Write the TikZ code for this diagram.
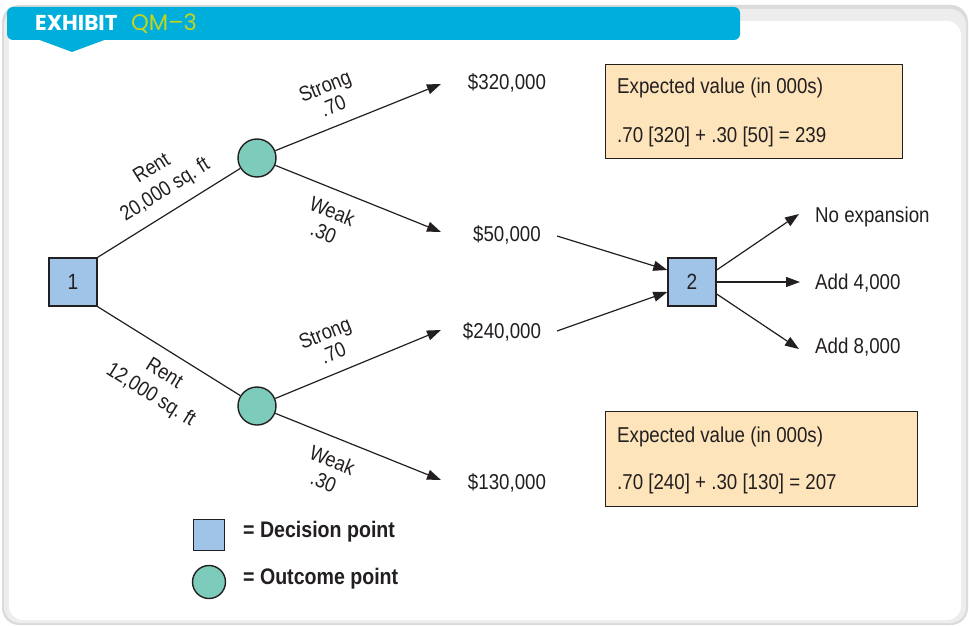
\documentclass[tikz,border=0pt]{standalone}
\usepackage{fontspec}
\setmainfont{Liberation Sans}[FakeStretch=0.87]
\newfontfamily\hdfont{Poppins}
\usetikzlibrary{arrows.meta}

\definecolor{hdblue}{RGB}{0,174,219}
\definecolor{hdgreen}{RGB}{196,212,30}
\definecolor{decfill}{RGB}{159,196,232}
\definecolor{outfill}{RGB}{125,203,187}
\definecolor{evfill}{RGB}{253,228,187}
\definecolor{ink}{RGB}{35,31,32}

\begin{document}
\begin{tikzpicture}[x=1pt,y=-1pt,
  dec/.style={draw=ink, line width=1.4pt, fill=decfill, minimum size=48pt,
    inner sep=0pt, text=ink, font=\fontsize{22}{24}\selectfont},
  outc/.style={circle, draw=ink, line width=1.4pt, fill=outfill,
    minimum size=38pt, inner sep=0pt},
  lbl/.style={font=\fontsize{21.5}{24}\selectfont, text=ink, inner sep=0pt},
  brl/.style={font=\fontsize{21}{25}\selectfont, align=center, text=ink, inner sep=0pt},
  conn/.style={line width=1.2pt, draw=ink},
  arr/.style={conn, -{Triangle[length=14pt,width=10pt]}},
  evbox/.style={draw=ink, line width=1.1pt, fill=evfill, inner sep=0pt,
    anchor=north west},
  legtxt/.style={font=\fontsize{22.5}{24}\selectfont\bfseries, text=ink,
    inner sep=0pt, anchor=west},
]
\useasboundingbox (0,0) rectangle (969,626);

% card with soft shadow
\fill[black!14, rounded corners=17pt] (2,5) rectangle (968,625);
\fill[black!7, rounded corners=16pt] (4,9) rectangle (966,623);
\fill[white, rounded corners=14pt] (9,21) rectangle (961,620);

% header bar with its pointer
\fill[hdblue, rounded corners=6pt] (7,7) rectangle (740,40);
\fill[hdblue] (37,39) -- (107,39) -- (72,52) -- cycle;
\node[anchor=base west, inner sep=0pt, text=white,
  font=\hdfont\fontsize{21.5}{24}\selectfont\bfseries] (exh) at (35,31) {EXHIBIT};
\node[anchor=base west, inner sep=0pt, text=hdgreen,
  font=\hdfont\fontsize{22.5}{24}\selectfont] (qm) at (131,31) {QM–3};

% decision and outcome points
\node[dec] (n1) at (73,282) {1};
\node[outc] (c1) at (257,158) {};
\node[outc] (c2) at (257,406) {};
\node[dec] (n2) at (692,282) {2};

% payoffs
\node[lbl] (v320) at (507,83) {\$320,000};
\node[lbl] (v50) at (507,235) {\$50,000};
\node[lbl] (v240) at (502,332) {\$240,000};
\node[lbl] (v130) at (507,483) {\$130,000};

\coordinate (t320) at (441,84);
\coordinate (t50) at (441,232);
\coordinate (t240) at (441,330);
\coordinate (t130) at (441,480);
\coordinate (s50) at (557,236);
\coordinate (s240) at (557,331);

% expansion choices
\node[lbl, anchor=west] (ne) at (815,217) {No expansion};
\node[lbl, anchor=west] (a4) at (815,283) {Add 4,000};
\node[lbl, anchor=west] (a8) at (815,347) {Add 8,000};
\coordinate (tne) at (799,214);
\coordinate (ta4) at (800,282);
\coordinate (ta8) at (799,349);

% branches
\draw[conn] (n1.north east) -- (c1);
\draw[conn] (n1.south east) -- (c2);
\draw[arr] (c1) -- (t320);
\draw[arr] (c1) -- (t50);
\draw[arr] (c2) -- (t240);
\draw[arr] (c2) -- (t130);
\draw[arr] (s50) -- ([yshift=12pt]n2.west);
\draw[arr] (s240) -- ([yshift=-10pt]n2.west);
\draw[arr] ([yshift=12pt]n2.east) -- (tne);
\draw[arr] (n2.east) -- (ta4);
\draw[arr] ([yshift=-12pt]n2.east) -- (ta8);

% branch labels
\node[brl, rotate=32] (r20) at (159,180) {Rent\\20,000 sq.\ ft};
\node[brl, rotate=-32] (r12) at (157,385) {Rent\\12,000 sq.\ ft};
\node[brl, rotate=22, font=\fontsize{21}{22}\selectfont] (s1) at (329,96) {Strong\\.70};
\node[brl, rotate=-22, font=\fontsize{21}{23}\selectfont] (w1) at (328,222) {Weak\\.30};
\node[brl, rotate=22, font=\fontsize{21}{22}\selectfont] (s2) at (329,343) {Strong\\.70};
\node[brl, rotate=-22, font=\fontsize{21}{23}\selectfont] (w2) at (328,471) {Weak\\.30};

% expected value boxes
\node[evbox, minimum width=297pt, minimum height=94pt] (ev1) at (605,64) {};
\node[lbl, anchor=west] (ev1a) at (617,88) {Expected value (in 000s)};
\node[lbl, anchor=west] (ev1b) at (617,137) {.70 [320] + .30 [50] = 239};
\node[evbox, minimum width=312pt, minimum height=95pt] (ev2) at (605,411) {};
\node[lbl, anchor=west] (ev2a) at (617,437) {Expected value (in 000s)};
\node[lbl, anchor=west] (ev2b) at (617,484) {.70 [240] + .30 [130] = 207};

% legend
\node[dec, minimum size=31pt] (kd) at (209,535) {};
\node[outc, minimum size=33pt] (ko) at (209,582) {};
\node[legtxt] (kdt) at (243,532) {= Decision point};
\node[legtxt] (kot) at (243,579) {= Outcome point};
\end{tikzpicture}
\end{document}
